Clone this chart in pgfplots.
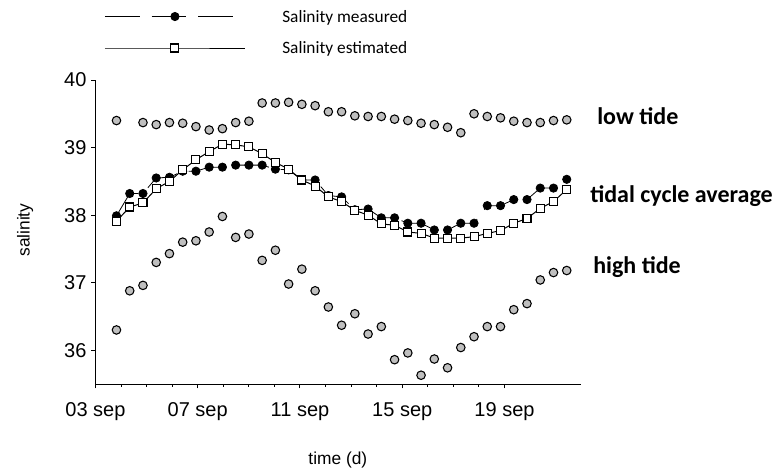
\documentclass[border=0pt]{standalone}
\usepackage{fontspec}
\setmainfont{Liberation Sans}
\newfontfamily\calibri{Carlito}
\usepackage{pgfplots}
\pgfplotsset{compat=1.18}
\usepackage{pgfplotstable}

\definecolor{tidegray}{RGB}{191,191,191}

% time in days after 03 sep, one value per tidal cycle
\pgfplotstableread{
x      low    meas   est    high
0.822  39.40  37.99  37.91  36.30
1.340  nan    38.32  38.12  36.88
1.858  39.37  38.32  38.18  36.96
2.376  39.34  38.55  38.39  37.30
2.894  39.37  38.56  38.50  37.43
3.412  39.36  38.65  38.67  37.60
3.930  39.31  38.65  38.82  37.62
4.448  39.26  38.71  38.94  37.75
4.966  39.28  38.71  39.05  37.98
5.484  39.37  38.74  39.04  37.67
6.002  39.39  38.74  39.01  37.72
6.520  39.66  38.74  38.91  37.33
7.038  39.66  38.68  38.78  37.48
7.556  39.67  38.67  38.68  36.98
8.074  39.64  38.52  38.52  37.20
8.592  39.62  38.52  38.43  36.88
9.110  39.53  38.29  38.27  36.64
9.628  39.53  38.27  38.20  36.37
10.146 39.47  38.08  38.07  36.54
10.664 39.46  38.09  38.00  36.24
11.182 39.46  37.96  37.87  36.35
11.700 39.42  37.96  37.85  35.86
12.218 39.40  37.88  37.75  35.96
12.736 39.36  37.88  37.73  35.63
13.254 39.34  37.78  37.66  35.87
13.772 39.30  37.78  37.66  35.74
14.290 39.22  37.88  37.66  36.04
14.808 39.50  37.88  37.68  36.20
15.326 39.46  38.14  37.73  36.35
15.844 39.44  38.14  37.77  36.35
16.362 39.39  38.23  37.88  36.60
16.880 39.37  38.23  37.95  36.69
17.398 39.37  38.40  38.10  37.04
17.916 39.40  38.40  38.20  37.15
18.434 39.41  38.53  38.38  37.18
}\salinity

\begin{document}
\begin{tikzpicture}[x=1pt,y=1pt]
\path[use as bounding box] (0,0) rectangle (582.75,354);
\begin{axis}[
  at={(71.6pt,66pt)}, anchor=south west,
  scale only axis, width=364.3pt, height=228pt,
  xmin=0, xmax=19, ymin=35.5, ymax=40,
  axis x line*=bottom, axis y line*=left,
  xtick={0,4,8,12,16},
  xticklabels={03 sep,07 sep,11 sep,15 sep,19 sep},
  minor x tick num=3,
  ytick={36,37,38,39,40},
  tick align=outside,
  major tick length=3.2pt, minor tick length=2pt,
  tick style={black, line width=0.75pt},
  axis line style={black, line width=0.75pt},
  ticklabel style={font=\fontsize{15}{18}\selectfont},
  xticklabel style={yshift=-7pt},
  /pgf/number format/assume math mode=true,
  xlabel={time (d)}, ylabel={salinity},
  label style={font=\fontsize{13}{15}\selectfont},
  xlabel style={at={(axis description cs:0.499,-0.25)}, anchor=center},
  ylabel style={at={(axis description cs:-0.145,0.5066)}, anchor=center},
  clip=false,
  legend style={draw=none, fill=none, at={(0.0185,1.243)}, anchor=north west,
    inner sep=0pt, outer sep=0pt, row sep=8.6pt,
    font=\calibri\fontsize{13}{15}\selectfont,
    nodes={inner sep=0pt, text height=9pt, text depth=3pt},
    cells={anchor=west}},
  legend image code/.code={
    \path[draw=none, fill=none] (0pt,0pt) rectangle (133pt,9pt);
    \draw[mark repeat=2,mark phase=2,#1] plot coordinates {(0pt,1.2pt) (52.5pt,1.2pt) (105pt,1.2pt)};
  },
]
% low and high tide
\addplot[only marks, mark=*, mark size=3.2pt,
  mark options={fill=tidegray, draw=black, line width=0.8pt}, forget plot]
  table[x=x, y=low]{\salinity};
\addplot[only marks, mark=*, mark size=3.2pt,
  mark options={fill=tidegray, draw=black, line width=0.8pt}, forget plot]
  table[x=x, y=high]{\salinity};
% tidal cycle average
\addplot[black, line width=0.6pt, dash pattern=on 26pt off 9pt,
  mark=*, mark size=3.1pt, mark options={solid, fill=black}]
  table[x=x, y=meas]{\salinity};
\addlegendentry{Salinity measured}
\addplot[black, line width=0.75pt,
  mark=square*, mark size=3pt, mark options={solid, fill=white, line width=0.8pt}]
  table[x=x, y=est]{\salinity};
\addlegendentry{Salinity estimated}
\end{axis}
\begin{scope}[every node/.style={anchor=base west, inner sep=0pt,
    font=\calibri\bfseries\fontsize{18}{21}\selectfont}]
  \node at (447.75,260.25) {low tide};
  \node at (442.5,202) {tidal cycle average};
  \node at (444.75,149.25) {high tide};
\end{scope}
\end{tikzpicture}
\end{document}
